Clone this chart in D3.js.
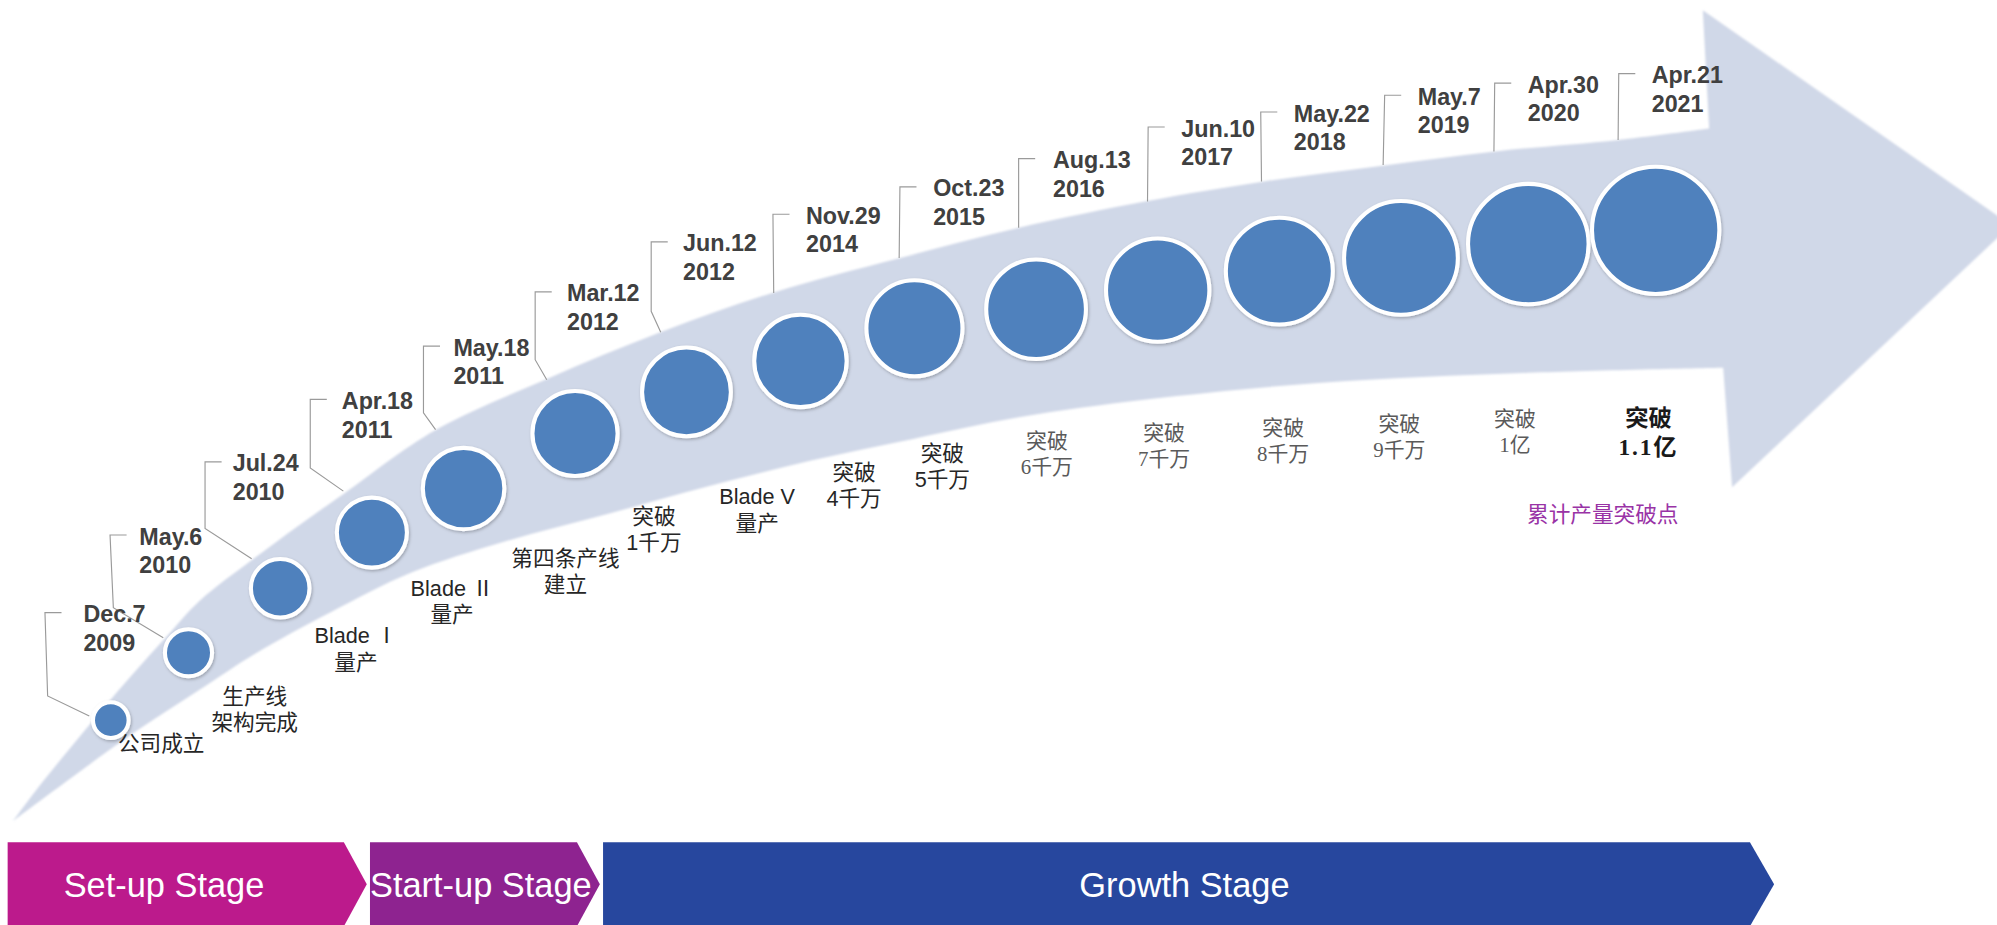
<!DOCTYPE html>
<html>
<head>
<meta charset="utf-8">
<script src="https://cdn.jsdelivr.net/npm/d3@7"></script>
<style>
    html, body { margin: 0; padding: 0; background: #fff; overflow: hidden; }
</style>
</head>
<body>
<svg id="chart"></svg>
<script>
// ---- data ----
const dates = ["Dec.7", "May.6", "Jul.24", "Apr.18", "May.18", "Mar.12", "Jun.12", "Nov.29",
    "Oct.23", "Aug.13", "Jun.10", "May.22", "May.7", "Apr.30", "Apr.21"]
const years = ["2009", "2010", "2010", "2011", "2011", "2012", "2012", "2014",
    "2015", "2016", "2017", "2018", "2019", "2020", "2021"]
const eventLine1 = ["公司成立", "生产线", "Blade Ⅰ", "Blade Ⅱ", "第四条产线", "突破", "Blade V", "突破",
    "突破", "突破", "突破", "突破", "突破", "突破", "突破"]
const eventLine2 = ["", "架构完成", "量产", "量产", "建立", "1千万", "量产", "4千万",
    "5千万", "6千万", "7千万", "8千万", "9千万", "1亿", "1.1亿"]
const stages = ["Set-up Stage", "Start-up Stage", "Growth Stage"]
const legendText = "累计产量突破点"

// ---- layout (drawing units of the 1568 x 727 view) ----
const W = 1997, H = 925, VW = 1568, VH = 727

// 里程碑序号 -> 横坐标 / 半径, 横坐标 -> 弧线上的纵坐标
let xScale = d3.scaleLinear().domain([0, 1, 4, 6, 8, 12, 14]).range([87, 148, 364, 539, 718, 1100, 1300])
let rScale = d3.scaleLinear().domain([0, 4, 11, 14]).range([14, 32, 42, 50])
let yTrack = d3.scaleLinear()
    .domain([87, 148, 219, 287, 364, 448, 539, 631, 718, 1005, 1300])
    .range([566, 513, 463, 421, 384, 342, 308, 283, 258, 213, 181])

// 箭头轮廓
const upperEdge = [[10.5, 645], [30, 619], [55, 588], [80, 558], [105, 529], [131, 500], [157, 472],
    [198, 440], [236, 412], [270, 388], [342, 338], [429, 298], [519, 261], [607, 230], [706, 203],
    [800, 179], [901, 158], [990, 143], [1087, 130], [1174, 119], [1271, 110], [1342, 101]]
const arrowHead = [[1337, 8], [1579, 177], [1360, 383]]
const lowerEdge = [[10.5, 645], [55, 612], [105, 576], [157, 542], [200, 514], [260, 481], [323, 450],
    [395, 426], [477, 404], [557, 382], [637, 362], [717, 345], [800, 328], [900, 314], [1035, 301],
    [1200, 293], [1353, 289]]

// 标注: 文字左端, 首行基线, 竖线x, 竖线底/折点, 终点
const callouts = [
    [65.5, 489, 35.3, 37.4, 547, 70.1, 562.7],
    [109.4, 428, 86.4, 89, 477.6, 128.2, 501.2],
    [182.7, 370.5, 161, 161, 415.4, 197.6, 439.2],
    [268.4, 321.4, 243.6, 243.6, 367.7, 269.6, 386],
    [356, 279.5, 332.5, 332.5, 324.5, 342, 337.6],
    [445.2, 236.9, 420.2, 420.2, 282.7, 429.3, 298.4],
    [536.3, 197.6, 511.3, 511.3, 244.7, 518.8, 261.2],
    [632.9, 175.9, 606.9, 607.5, 230.3, 607.5, 230.3],
    [732.7, 154.4, 706.6, 706, 202.8, 706, 202.8],
    [826.8, 132.2, 799.8, 799.8, 179, 799.8, 179],
    [927.5, 107.3, 901.5, 901, 158.4, 901, 158.4],
    [1015.9, 95.5, 989.9, 990.5, 142.7, 990.5, 142.7],
    [1113.2, 82.4, 1087.2, 1086, 129.6, 1086, 129.6],
    [1199.6, 72.8, 1173.6, 1173, 119.1, 1173, 119.1],
    [1296.9, 65.4, 1271, 1270.5, 110, 1270.5, 110]
]
const eventAt = [[126.6, 590], [200, 553.5], [279.5, 505.7], [355, 468.5], [444, 444.7], [513.5, 411.5],
    [594.5, 396.5], [670.6, 377.5], [739.9, 362.3], [822, 352], [914, 345.5], [1007.5, 341.5],
    [1098.7, 338.5], [1189.5, 334.5], [1294.4, 334.5]]

const stageBox = [[6, 270, 288], [290.5, 453, 471], [473.5, 1374, 1393]]
const stageColor = ["#BC1A8C", "#8E2390", "#27479E"]

const svg = d3.select("#chart")
    .attr("width", W)
    .attr("height", H)
    .attr("viewBox", "0 0 " + VW + " " + VH)
    .attr("preserveAspectRatio", "none")

const defs = svg.append("defs")
defs.append("filter").attr("id", "soft")
    .append("feGaussianBlur").attr("stdDeviation", 0.7)
defs.append("filter").attr("id", "shadow")
    .attr("x", "-30%").attr("y", "-30%").attr("width", "160%").attr("height", "160%")
    .append("feDropShadow")
    .attr("dx", 0.8).attr("dy", 1.2).attr("stdDeviation", 1.4)
    .attr("flood-color", "#000").attr("flood-opacity", 0.25)

// 箭头
let edge = d3.line().curve(d3.curveCatmullRom.alpha(0.5))
let upperPath = edge(upperEdge)
let lowerPath = edge(lowerEdge.slice().reverse())
let arrowD = upperPath + arrowHead.map(p => "L" + p[0] + "," + p[1]).join("") + "L" + lowerPath.slice(1) + "Z"

svg.append("path")
    .attr("d", arrowD)
    .attr("fill", "#D0D8E8")
    .attr("filter", "url(#soft)")

// 节点
let nodes = dates.map((d, i) => {
    let cx = xScale(i)
    return { i: i, date: d, year: years[i], cx: cx, cy: yTrack(cx), r: rScale(i) }
})

// 引线
svg.append("g").selectAll("path")
    .data(callouts)
    .enter()
    .append("path")
    .attr("d", c => {
        let ty = c[1] - 7.5
        return "M" + (c[2] + 13) + "," + ty + "L" + c[2] + "," + ty + "L" + c[3] + "," + c[4] + "L" + c[5] + "," + c[6]
    })
    .attr("fill", "none")
    .attr("stroke", "#9A9A9A")
    .attr("stroke-width", 0.9)

// 圆点
svg.append("g").selectAll("circle")
    .data(nodes)
    .enter()
    .append("circle")
    .attr("cx", d => d.cx)
    .attr("cy", d => d.cy)
    .attr("r", d => d.r)
    .attr("fill", "#4F81BD")
    .attr("stroke", "#fff")
    .attr("stroke-width", 3.2)
    .attr("filter", "url(#shadow)")

// 日期
let dateG = svg.append("g")
    .style("font-family", "'Liberation Sans', Arial, sans-serif")
    .style("font-weight", "bold")
    .style("font-size", "18.3px")
    .attr("fill", "#404040")
nodes.forEach((n, i) => {
    let c = callouts[i]
    let t = dateG.append("text").attr("x", c[0]).attr("y", c[1])
    t.append("tspan").attr("x", c[0]).text(n.date)
    t.append("tspan").attr("x", c[0]).attr("dy", 22.5).text(n.year)
})

// 事件文字
let eventG = svg.append("g").attr("text-anchor", "middle")
nodes.forEach((n, i) => {
    let p = eventAt[i]
    let t = eventG.append("text").attr("x", p[0]).attr("y", p[1])
    if (i < 9) {
        t.style("font-family", "'Liberation Sans', 'Noto Sans CJK SC', sans-serif").style("font-size", "17px").attr("fill", "#262626")
    } else if (i < 14) {
        t.style("font-family", "'Liberation Serif', 'Noto Sans CJK SC', serif").style("font-size", "16.4px").attr("fill", "#5A5A5A")
    } else {
        t.style("font-family", "'Liberation Serif', 'Noto Sans CJK SC', serif").style("font-size", "18.3px")
            .style("font-weight", "bold").attr("fill", "#1A1A1A")
    }
    // 罗马数字用全角字形
    let m = eventLine1[i].match(/^(.*?)([\u2160-\u216F])$/)
    if (m) {
        let first = t.append("tspan").attr("x", p[0])
        first.append("tspan").text(m[1])
        first.append("tspan").style("font-family", "'Noto Sans CJK SC', sans-serif").text(m[2])
    } else {
        t.append("tspan").attr("x", p[0]).text(eventLine1[i])
    }
    if (eventLine2[i] != "") {
        let s = t.append("tspan").attr("x", p[0]).attr("dy", i == 14 ? 23 : 20.5).text(eventLine2[i])
        if (i == 14) s.style("letter-spacing", "1.5px")
    }
})

// 图例文字
svg.append("text")
    .attr("x", 1199)
    .attr("y", 410.5)
    .style("font-family", "'Noto Sans CJK SC', sans-serif")
    .style("font-size", "17px")
    .attr("fill", "#9933A6")
    .text(legendText)

// 阶段条
let stageG = svg.append("g")
stages.forEach((s, i) => {
    let b = stageBox[i]
    let top = 662, mid = 695, bot = 728
    stageG.append("path")
        .attr("d", "M" + b[0] + "," + top + "L" + b[1] + "," + top + "L" + b[2] + "," + mid +
            "L" + b[1] + "," + bot + "L" + b[0] + "," + bot + "Z")
        .attr("fill", stageColor[i])
    let tx = i == 0 ? 50 : (i == 1 ? 290.5 : 930)
    stageG.append("text")
        .attr("x", tx)
        .attr("y", 705.3)
        .attr("text-anchor", i == 2 ? "middle" : "start")
        .style("font-family", "'Liberation Sans', Arial, sans-serif")
        .style("font-size", "27px")
        .attr("fill", "#fff")
        .text(s)
})
</script>
</body>
</html>
